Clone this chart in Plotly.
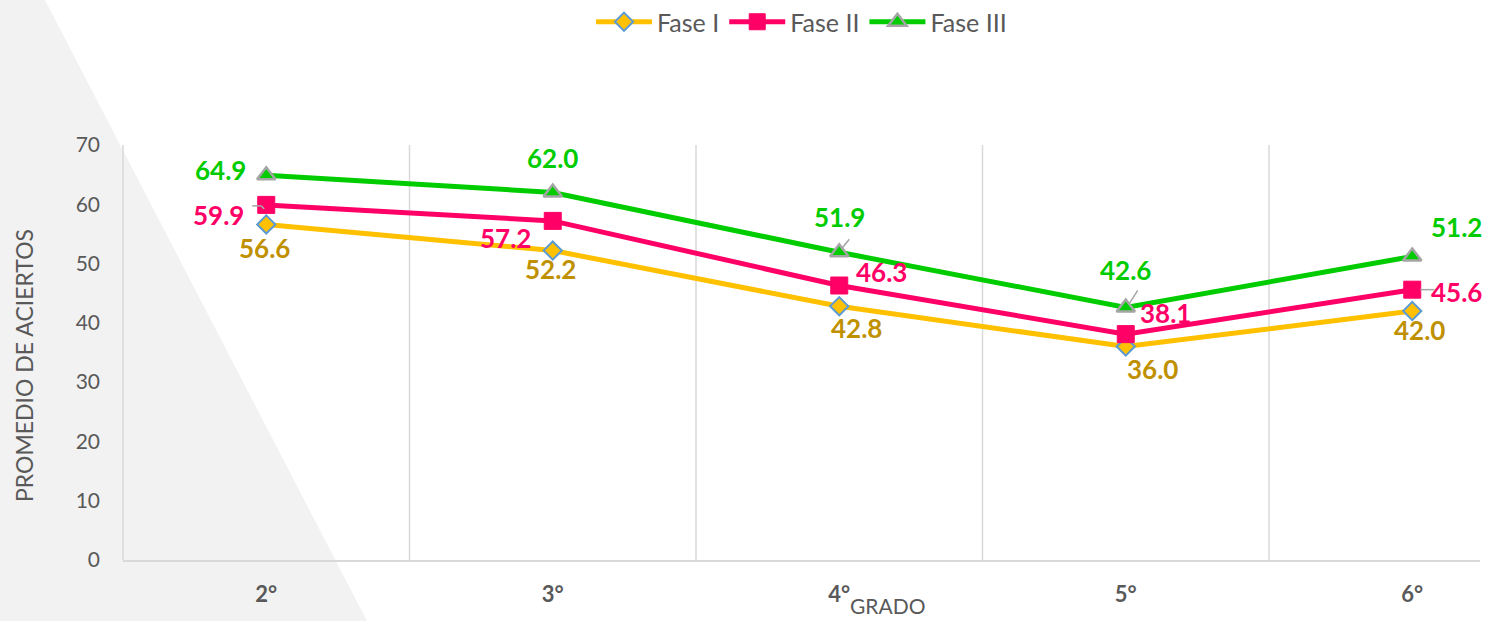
import plotly.graph_objects as go

categories = ["2°", "3°", "4°", "5°", "6°"]
fase1 = [56.6, 52.2, 42.8, 36.0, 42.0]
fase2 = [59.9, 57.2, 46.3, 38.1, 45.6]
fase3 = [64.9, 62.0, 51.9, 42.6, 51.2]
yticks = [0, 10, 20, 30, 40, 50, 60, 70]

# label offsets (pixels, +y = down) for data labels
off1 = [(-2, 24), (-2, 18), (17, 22), (27, 22), (7, 19)]
off2 = [(-48, 10), (-47, 17), (42, -14), (40, -21), (44, 2)]
off3 = [(-46, -5), (0, -34), (0, -35), (0, -37), (44, -29)]

FONT = "Lato"
xs = list(range(len(categories)))

fig = go.Figure()
fig.add_trace(go.Scatter(
    x=xs, y=fase1, name="Fase I", mode="lines+markers",
    line=dict(color="#FFC000", width=5),
    marker=dict(symbol="diamond", size=14, color="#FFC000",
                line=dict(color="#5B9BD5", width=2))))
fig.add_trace(go.Scatter(
    x=xs, y=fase2, name="Fase II", mode="lines+markers",
    line=dict(color="#FF0066", width=5),
    marker=dict(symbol="square", size=17, color="#FF0066",
                line=dict(color="#FF0066", width=1))))
fig.add_trace(go.Scatter(
    x=xs, y=fase3, name="Fase III", mode="lines+markers",
    line=dict(color="#00CC00", width=5),
    marker=dict(symbol="triangle-up", size=16, color="#00CC00",
                line=dict(color="#A5A5A5", width=2.5))))

annotations = []
for vals, offs, col in [(fase1, off1, "#BF9000"), (fase2, off2, "#FF0066"), (fase3, off3, "#00CC00")]:
    for i, (v, (dx, dy)) in enumerate(zip(vals, offs)):
        annotations.append(dict(
            x=xs[i], y=v, xref="x", yref="y", text=f"{v:.1f}", showarrow=False,
            xshift=dx, yshift=-dy,
            font=dict(family=FONT, size=26, color=col, weight="bold")))

annotations.append(dict(text="GRADO", xref="paper", yref="paper",
                        x=(888 - 123) / 1357, y=-(605 - 560) / 415, showarrow=False,
                        xanchor="center", yanchor="middle",
                        font=dict(family=FONT, size=21, color="#595959")))
annotations.append(dict(text="PROMEDIO DE ACIERTOS", xref="paper", yref="paper",
                        x=-(123 - 24) / 1357, y=(560 - 366) / 415, showarrow=False,
                        textangle=-90, xanchor="center", yanchor="middle",
                        font=dict(family=FONT, size=23, color="#595959")))

shapes = [dict(type="path", xref="paper", yref="paper", layer="below",
               path="M {a},{t} L {b},{t} L {c},{bt} L {a},{bt} Z".format(
                   a=-130 / 1357, b=(45 - 123) / 1357, c=(367 - 123) / 1357,
                   t=560 / 415, bt=-61 / 415),
               fillcolor="#F2F2F2", line=dict(width=0))]
for gx in [0.5, 1.5, 2.5, 3.5]:
    shapes.append(dict(type="line", xref="x", yref="y", x0=gx, x1=gx, y0=0, y1=70,
                       line=dict(color="#D9D9D9", width=1.5), layer="below"))
shapes.append(dict(type="line", xref="paper", yref="y", x0=0, x1=0, y0=0, y1=70,
                   line=dict(color="#D9D9D9", width=1.5), layer="below"))
# small leader lines (pixel offsets anchored at data points)
leaders = [(0, fase2[0], [(-2, -4), (-5, -1), (-14, -1)]),
           (2, fase3[2], [(2, 3), (10, 13)]),
           (3, fase3[3], [(3, 3), (12, 17)]),
           (4, fase2[4], [(8, 0), (22, 0)])]
for xi, yv, pts in leaders:
    for (ax0, ay0), (ax1, ay1) in zip(pts[:-1], pts[1:]):
        shapes.append(dict(type="line", xref="x", yref="y", xsizemode="pixel",
                           ysizemode="pixel", xanchor=xi, yanchor=yv,
                           x0=ax0, x1=ax1, y0=ay0, y1=ay1,
                           line=dict(color="#A5A5A5", width=1.5)))

fig.update_layout(
    width=1494, height=621,
    margin=dict(l=123, r=14, t=145, b=61, autoexpand=False),
    paper_bgcolor="white", plot_bgcolor="rgba(0,0,0,0)",
    font=dict(family=FONT, color="#595959"),
    showlegend=True,
    legend=dict(orientation="h", x=0.5, xanchor="center", y=1 + 123 / 415, yanchor="middle",
                font=dict(family=FONT, size=25, color="#595959"),
                bgcolor="rgba(0,0,0,0)", itemwidth=56, tracegroupgap=0),
    xaxis=dict(range=[-0.5, -0.5 + 1357 / 286.5], tickvals=xs, ticktext=categories,
               showgrid=False, zeroline=False, showline=True, linecolor="#D9D9D9",
               linewidth=1.5, ticks="", ticklabelstandoff=14,
               tickfont=dict(family=FONT, size=22, color="#595959", weight="bold")),
    yaxis=dict(range=[0, 70], tickvals=yticks, showgrid=False, zeroline=False,
               showline=False, ticks="", ticklabelstandoff=22,
               tickfont=dict(family=FONT, size=21, color="#595959")),
    annotations=annotations,
    shapes=shapes,
)

fig.write_html("out.html", config={"displayModeBar": False},
               post_script="document.body.style.margin='0';")
